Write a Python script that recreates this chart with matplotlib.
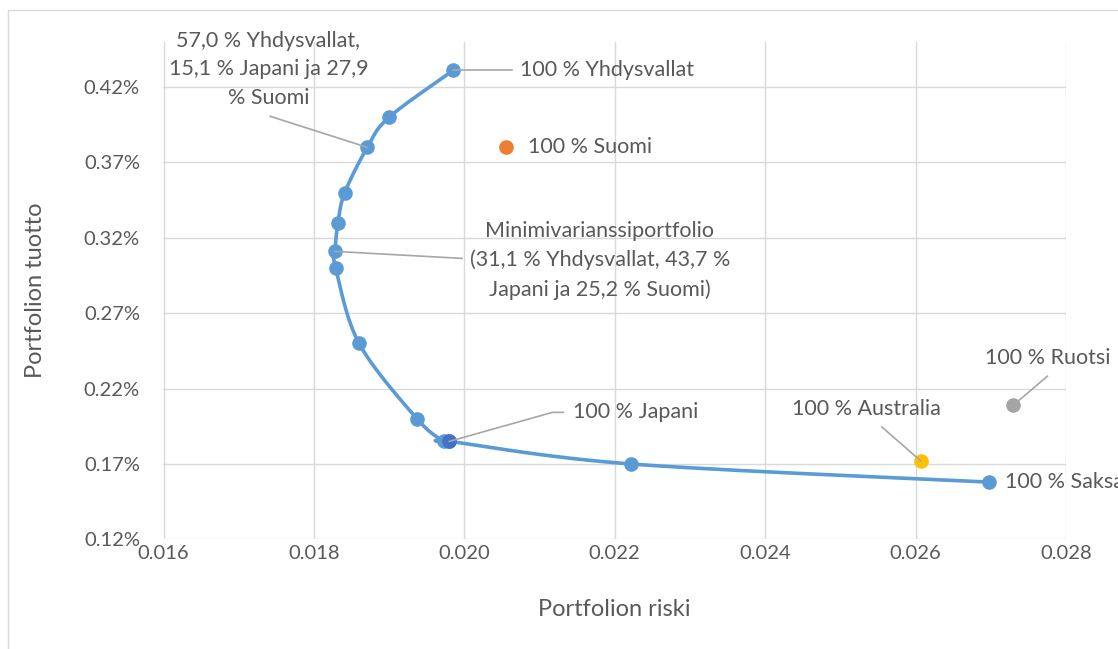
import numpy as np
import matplotlib.pyplot as plt
from matplotlib.ticker import FuncFormatter, FixedLocator
from matplotlib.patches import Rectangle

plt.rcParams["font.family"] = ["Lato", "DejaVu Sans"]

# efficient frontier, from 100 % Yhdysvallat down to 100 % Saksa
risk = [0.01985, 0.01900, 0.01871, 0.01841, 0.01832, 0.01828, 0.01829,
        0.01860, 0.01937, 0.01973, 0.01980, 0.02222, 0.02698]
ret = [0.00431, 0.00400, 0.00380, 0.00350, 0.00330, 0.00311, 0.00300,
       0.00250, 0.00200, 0.00185, 0.00185, 0.00170, 0.00158]

# single country portfolios
suomi = (0.02056, 0.00380)
japani = (0.01980, 0.00185)
australia = (0.02607, 0.00172)
ruotsi = (0.02730, 0.00209)

xticks = [0.016, 0.018, 0.020, 0.022, 0.024, 0.026, 0.028]
yticks = [0.0012, 0.0017, 0.0022, 0.0027, 0.0032, 0.0037, 0.0042]

BLUE = "#5B9BD5"
TXT = "#595959"
LEAD = "#A6A6A6"
GRID = "#D9D9D9"
FS = 15.5


def smooth(xs, ys, n=30):
    # catmull-rom, roughly what excel does for "smoothed line"
    p = np.column_stack([xs, ys])
    p = np.vstack([p[0], p, p[-1]])
    out = []
    for i in range(1, len(p) - 2):
        p0, p1, p2, p3 = p[i - 1], p[i], p[i + 1], p[i + 2]
        t = np.linspace(0, 1, n)[:, None]
        seg = 0.5 * ((2 * p1) + (-p0 + p2) * t + (2 * p0 - 5 * p1 + 4 * p2 - p3) * t ** 2
                     + (-p0 + 3 * p1 - 3 * p2 + p3) * t ** 3)
        out.append(seg)
    out = np.vstack(out)
    return out[:, 0], out[:, 1]


fig = plt.figure(figsize=(11.18, 6.49), dpi=100)
fig.patches.append(Rectangle((8 / 1118, -0.1), 1.2, 1 - 10 / 649 + 0.1, transform=fig.transFigure,
                             fill=False, edgecolor="#D9D9D9", lw=1))
ax = fig.add_axes([163.5 / 1118, (649 - 539.4) / 649, (1066 - 163.5) / 1118, (539.4 - 41.8) / 649])

ax.set_xlim(0.016, 0.028)
ax.set_ylim(0.0012, 0.0045)
ax.xaxis.set_major_locator(FixedLocator(xticks))
ax.yaxis.set_major_locator(FixedLocator(yticks))
ax.xaxis.set_major_formatter(FuncFormatter(lambda v, p: f"{v:.3f}"))
ax.yaxis.set_major_formatter(FuncFormatter(lambda v, p: f"{v * 100:.2f}%"))
ax.grid(True, color=GRID, lw=1)
ax.set_axisbelow(True)
for s in ax.spines.values():
    s.set_visible(False)
ax.tick_params(length=0, colors=TXT, labelsize=14.5)
ax.tick_params(axis="y", pad=17)
ax.tick_params(axis="x", pad=4)

sx, sy = smooth(risk, ret)
ax.plot(sx, sy, color=BLUE, lw=2.6, zorder=3)
ax.plot(risk, ret, "o", color=BLUE, ms=9.5, zorder=4)
ax.plot(*japani, "o", color="#4472C4", ms=9.5, zorder=5)
ax.plot(*suomi, "o", color="#ED7D31", ms=9.5, zorder=4)
ax.plot(*australia, "o", color="#FFC000", ms=9.5, zorder=4)
ax.plot(*ruotsi, "o", color="#A5A5A5", ms=9.5, zorder=4)

ax.set_xlabel("Portfolion riski", color=TXT, fontsize=17, labelpad=27)
ax.set_ylabel("Portfolion tuotto", color=TXT, fontsize=17, labelpad=27)


def leader(pt, offs):
    x0, y0 = ax.transData.transform(pt)
    xs = [x0 + dx for dx, dy in offs]
    ys = [y0 + dy for dx, dy in offs]
    ax.plot(xs, ys, color=LEAD, lw=1.2, transform=None, zorder=6, clip_on=False)


def label(pt, text, off, ha="left"):
    ax.annotate(text, xy=pt, xytext=off, textcoords="offset pixels", ha=ha, va="center",
                color=TXT, fontsize=FS, linespacing=1.55, annotation_clip=False, zorder=7)


usa = (risk[0], ret[0])
mix = (risk[2], ret[2])
minv = (risk[5], ret[5])
saksa = (risk[-1], ret[-1])

leader(usa, [(0, 0), (59, 0)])
label(usa, "100 % Yhdysvallat", (67, 0))

leader(mix, [(0, 0), (-97, 31)])
label(mix, "57,0 % Yhdysvallat,\n15,1 % Japani ja 27,9\n% Suomi", (-99, 78), ha="center")

label(suomi, "100 % Suomi", (22, 0))

leader(minv, [(0, 0), (127, -7)])
label(minv, "Minimivarianssiportfolio\n(31,1 % Yhdysvallat, 43,7 %\nJapani ja 25,2 % Suomi)", (265, -9), ha="center")

leader(japani, [(0, 0), (103, 29), (114, 29)])
label(japani, "100 % Japani", (124, 29))

leader(australia, [(0, 0), (-39, 34)])
label(australia, "100 % Australia", (-54, 52), ha="center")

leader(ruotsi, [(0, 0), (34, 29)])
label(ruotsi, "100 % Ruotsi", (34, 47), ha="center")

label(saksa, "100 % Saksa", (16, 0))

fig.savefig("out.png", dpi=100)
